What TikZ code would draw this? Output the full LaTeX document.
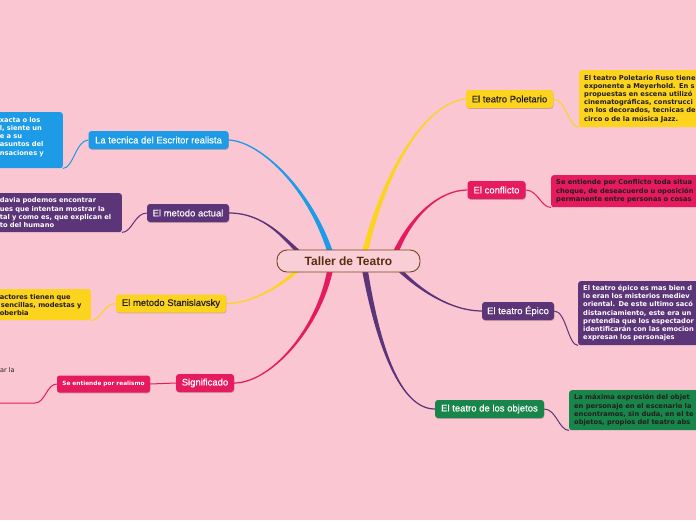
\documentclass[tikz,border=0pt]{standalone}
\usepackage{fontspec}
\setmainfont{Liberation Sans}
\newfontfamily\subfont{DejaVu Sans}
\newfontfamily\topicfont[FakeBold=0.5]{Liberation Sans}
\usetikzlibrary{calc,shadows}
\definecolor{bgpink}{RGB}{249,198,209}
\definecolor{cblue}{RGB}{30,155,230}
\definecolor{cpurple}{RGB}{92,52,120}
\definecolor{cyellow}{RGB}{252,212,30}
\definecolor{cred}{RGB}{230,26,94}
\definecolor{cgreen}{RGB}{24,134,74}
\definecolor{cbrown}{RGB}{120,70,30}
\definecolor{ctxtbrown}{RGB}{90,45,15}
\definecolor{cfill}{RGB}{250,206,214}
\definecolor{cdark}{RGB}{35,30,30}
\pgfdeclarelayer{back}
\pgfsetlayers{back,main}
\newcommand\branch[6]{%
  \fill[#1] ($#2+(2.9,0)$) .. controls ($#3+(1.9,0)$) and ($#4+(0,0.8*#6)$) .. ($#5+(0,0.6*#6)$)
    -- ($#5-(0,0.6*#6)$) .. controls ($#4-(0,0.8*#6)$) and ($#3-(1.9,0)$) .. ($#2-(2.9,0)$) -- cycle;}
\tikzset{
  rootnode/.style={draw=cbrown, line width=0.9pt, fill=cfill, rounded corners=10pt,
    minimum width=143pt, minimum height=22pt, inner sep=0pt, text=ctxtbrown,
    font=\bfseries\fontsize{12}{14}\selectfont},
  topic/.style={rounded corners=3pt, inner sep=0pt, minimum height=18pt,
    font=\topicfont\fontsize{9.5}{11}\selectfont,
    drop shadow={shadow xshift=0.4pt, shadow yshift=-0.8pt, opacity=0.2, fill=black}},
  subbox/.style={rounded corners=2.5pt, inner xsep=5pt, inner ysep=0pt, align=left,
    font=\subfont\bfseries\fontsize{6.7}{8.2}\selectfont},
  sublink/.style={line width=1pt},
}
\begin{document}
\begin{tikzpicture}[x=1pt,y=-1pt]
\useasboundingbox (0,0) rectangle (696,520);
% root
\node[rootnode] (c) at (348.5,261) {Taller de Teatro};
% main topics
\node[topic, fill=cblue, text=white, minimum width=140pt] (t1) at (158.5,140) {La tecnica del Escritor realista};
\node[topic, fill=cpurple, text=white, minimum width=82pt] (t2) at (188,213) {El metodo actual};
\node[topic, fill=cyellow, text=cdark, minimum width=110pt] (t3) at (171,303.5) {El metodo Stanislavsky};
\node[topic, fill=cred, text=white, minimum width=58pt] (t4) at (205,383) {Significado};
\node[topic, fill=cyellow, text=cdark, minimum width=87pt] (t5) at (509.5,99) {El teatro Poletario};
\node[topic, fill=cred, text=white, minimum width=58pt] (t6) at (496.5,190) {El conflicto};
\node[topic, fill=cpurple, text=white, minimum width=72pt] (t7) at (518,311) {El teatro Épico};
\node[topic, fill=cgreen, text=white, minimum width=109pt] (t8) at (489.5,409) {El teatro de los objetos};
% sub boxes left
\node[subbox, fill=cblue, text=white, anchor=north east, text width=58pt, minimum height=56pt] (s1) at (63,112)
  {\mbox{xacta o los}\\\mbox{l, siente un}\\\mbox{e a su}\\\mbox{asuntos del}\\\mbox{nsaciones y}\\\mbox{}};
\node[subbox, fill=cpurple, text=white, anchor=north east, text width=117pt, minimum height=39pt] (s2) at (122,193)
  {\mbox{davia podemos encontrar}\\\mbox{ues que intentan mostrar la}\\\mbox{tal y como es, que explican el}\\\mbox{to del humano}};
\node[subbox, fill=cyellow, text=cdark, anchor=north east, text width=86pt, minimum height=31pt] (s3) at (91,289)
  {\mbox{actores tienen que}\\\mbox{\hspace{1pt}sencillas, modestas y}\\\mbox{oberbia}};
\node[topic, fill=cred, text=white, minimum width=93pt, minimum height=17pt, rounded corners=2.5pt,
  font=\subfont\bfseries\fontsize{5.8}{7}\selectfont] (sr) at (103.5,384) {Se entiende por realismo};
\node[font=\subfont\fontsize{6.5}{8}\selectfont, text=cdark, anchor=west, inner sep=0pt] (arla) at (0,370) {ar la};
\coordinate (rlb) at (35,403);
\coordinate (rl) at (-5,403);
% sub boxes right
\node[subbox, fill=cyellow, text=cdark, anchor=north west, text width=150pt, minimum height=57pt] (p1) at (579,70)
  {El teatro Poletario Ruso tiene\\exponente a Meyerhold. En s\\propuestas en escena utilizó\\cinematográficas, construcci\\en los decorados, tecnicas de\\circo o de la música Jazz.};
\node[subbox, fill=cred, text=cdark, anchor=north west, text width=150pt, minimum height=32pt] (p2) at (551,175)
  {Se entiende por Conflicto toda situa\\choque, de deseacuerdo u oposición\\permanente entre personas o cosas};
\node[subbox, fill=cpurple, text=white, anchor=north west, text width=150pt, minimum height=64pt] (p3) at (578,281)
  {El teatro épico es mas bien d\\lo eran los misterios mediev\\oriental. De este ultimo sacó\\distanciamiento, este era un\\pretendia que los espectador\\identificarán con las emocion\\expresan los personajes};
\node[subbox, fill=cgreen, text=cdark, anchor=north west, text width=150pt, minimum height=40pt] (p4) at (569,390)
  {La máxima expresión del objet\\en personaje en el escenario la\\encontramos, sin duda, en el te\\objetos, propios del teatro abs};
% connectors
\begin{pgfonlayer}{back}
\fill[bgpink] (0,0) rectangle (696,520);
\branch{cblue}{(c.north)+(-18.5,2)}{(308,185)}{(258,141)}{(t1.east)}{-1}
\branch{cpurple}{(c.north)+(-50,2)}{(285,240)}{(265,213)}{(t2.east)}{-1}
\branch{cyellow}{(c.south)+(-51.5,-2)}{(280,287)}{(250,304)}{(t3.east)}{1}
\branch{cred}{(c.south)+(-18.5,-2)}{(318,330)}{(270,383)}{(t4.east)}{1}
\branch{cpurple}{(c.south)+(16.5,-2)}{(378,345)}{(400,409)}{(t8.west)}{-1}
\branch{cpurple}{(c.south)+(51.5,-2)}{(425,295)}{(455,311)}{(t7.west)}{-1}
\branch{cred}{(c.north)+(47.5,2)}{(412,215)}{(440,190)}{(t6.west)}{1}
\branch{cyellow}{(c.north)+(16.5,2)}{(385,170)}{(425,103)}{(t5.west)}{1}
\draw[sublink, cblue] (t1.west) .. controls +(-12,0) and +(10,0) .. (s1.south east);
\draw[sublink, cpurple] (t2.west) .. controls +(-12,0) and +(10,0) .. (s2.south east);
\draw[sublink, cyellow] (t3.west) .. controls +(-12,0) and +(10,0) .. (s3.south east);
\draw[sublink, cred] (t4.west) -- (sr.east);
\draw[sublink, cred] (sr.west) .. controls +(-10,0) and +(10,0) .. (rlb) -- (rl);
\draw[sublink, cyellow] (t5.east) .. controls +(12,0) and +(-10,0) .. (p1.south west);
\draw[sublink, cred] (t6.east) .. controls +(12,0) and +(-10,0) .. (p2.south west);
\draw[sublink, cpurple] (t7.east) .. controls +(12,0) and +(-10,0) .. (p3.south west);
\draw[sublink, cpurple] (t8.east) .. controls +(12,0) and +(-10,0) .. (p4.south west);
\end{pgfonlayer}
\end{tikzpicture}
\end{document}
